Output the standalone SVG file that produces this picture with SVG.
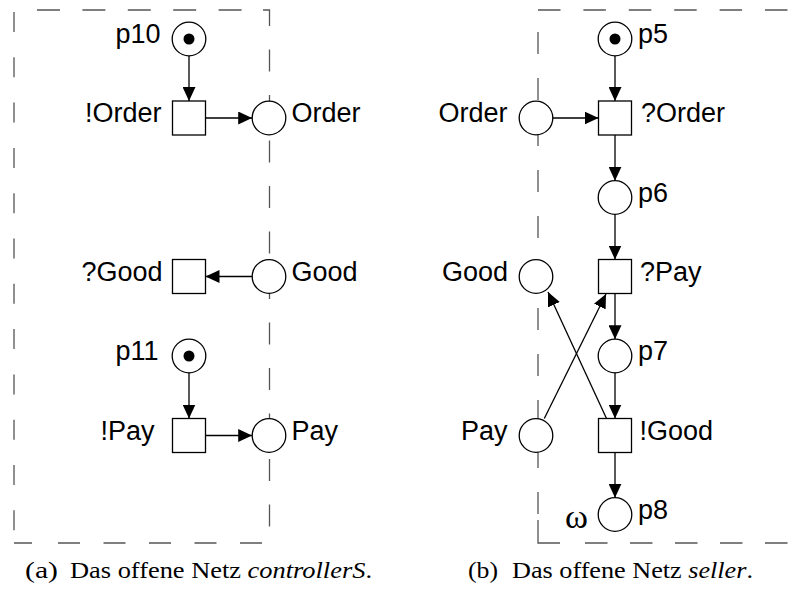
<svg xmlns="http://www.w3.org/2000/svg" width="797" height="590" viewBox="0 0 797 590">
  <style>
    .frame { fill: none; stroke: #555; stroke-width: 1.3; }
    .place { fill: #fff; stroke: #000; stroke-width: 1.3; }
    .trans { fill: #fff; stroke: #000; stroke-width: 1.3; }
    .token { fill: #000; }
    .arc { fill: none; stroke: #000; stroke-width: 1.3; marker-end: url(#ah); }
    .lbl { font-family: "Liberation Sans", Arial, sans-serif; font-size: 27px; fill: #000; }
    .cap { font-family: "Liberation Serif", "Times New Roman", serif; font-size: 24px; fill: #000; }
    .omega { font-family: "Liberation Serif", "Times New Roman", serif; font-size: 34px; fill: #000; }
  </style>
  <defs>
    <marker id="ah" markerWidth="14" markerHeight="13" refX="14" refY="6.5" orient="auto" markerUnits="userSpaceOnUse">
      <path d="M0,0 L14,6.5 L0,13 z" fill="#000"/>
    </marker>
  </defs>

  <!-- dashed borders of the two open nets -->
  <g id="frames">
    <!-- controllerS -->
    <line class="frame" x1="37" y1="10" x2="263" y2="10" stroke-dasharray="23 22.4"/>
    <path class="frame" d="M263,10 H269.5 V26"/>
    <line class="frame" x1="269.5" y1="49.5" x2="269.5" y2="530" stroke-dasharray="22 23.5"/>
    <line class="frame" x1="14" y1="12" x2="14" y2="531" stroke-dasharray="20 25.3"/>
    <line class="frame" x1="14" y1="543" x2="262" y2="543" stroke-dasharray="18 26 22 23.5 22 23.5 22 23.5 22 23.5 22 23.5"/>
    <!-- seller -->
    <line class="frame" x1="538" y1="10" x2="797" y2="10" stroke-dasharray="22.5 22.9"/>
    <line class="frame" x1="538" y1="32" x2="538" y2="514" stroke-dasharray="22 24"/>
    <path class="frame" d="M538,520 V543 H560"/>
    <line class="frame" x1="585" y1="543" x2="797" y2="543" stroke-dasharray="22.5 22.5"/>
  </g>

  <!-- arcs -->
  <g id="connectors">
    <line class="arc" x1="189" y1="55.8" x2="189" y2="101"/>
    <line class="arc" x1="205.5" y1="118" x2="252.2" y2="118"/>
    <line class="arc" x1="252.2" y1="276.5" x2="205.5" y2="276.5"/>
    <line class="arc" x1="189" y1="372.8" x2="189" y2="418.5"/>
    <line class="arc" x1="205.5" y1="435.5" x2="252.2" y2="435.5"/>

    <line class="arc" x1="615" y1="55.8" x2="615" y2="101"/>
    <line class="arc" x1="552.8" y1="118" x2="598.5" y2="118"/>
    <line class="arc" x1="615" y1="135" x2="615" y2="180.7"/>
    <line class="arc" x1="615" y1="214.3" x2="615" y2="259.5"/>
    <line class="arc" x1="615" y1="293.5" x2="615" y2="339.2"/>
    <line class="arc" x1="615" y1="372.8" x2="615" y2="418.5"/>
    <line class="arc" x1="615" y1="452.5" x2="615" y2="497.7"/>
    <line class="arc" x1="544.3" y1="418.5" x2="606" y2="294"/>
    <line class="arc" x1="606.5" y1="418.5" x2="548" y2="292"/>
  </g>

  <!-- controllerS nodes -->
  <g id="p10">
    <circle class="place" cx="189" cy="39" r="16.8"/>
    <circle class="token" cx="189" cy="39" r="5.5"/>
    <text class="lbl" x="115.5" y="43">p10</text>
  </g>
  <g id="t-send-order">
    <rect class="trans" x="172.5" y="101" width="33" height="34"/>
    <text class="lbl" x="85" y="122">!Order</text>
  </g>
  <g id="order-a">
    <circle class="place" cx="269" cy="118" r="16.8"/>
    <text class="lbl" x="291.5" y="122">Order</text>
  </g>
  <g id="t-recv-good">
    <rect class="trans" x="172.5" y="259.5" width="33" height="34"/>
    <text class="lbl" x="81.5" y="280.5">?Good</text>
  </g>
  <g id="good-a">
    <circle class="place" cx="269" cy="276.5" r="16.8"/>
    <text class="lbl" x="291.5" y="280.5">Good</text>
  </g>
  <g id="p11">
    <circle class="place" cx="189" cy="356" r="16.8"/>
    <circle class="token" cx="189" cy="356" r="5.5"/>
    <text class="lbl" x="115.5" y="360">p11</text>
  </g>
  <g id="t-send-pay">
    <rect class="trans" x="172.5" y="418.5" width="33" height="34"/>
    <text class="lbl" x="100.5" y="439.5">!Pay</text>
  </g>
  <g id="pay-a">
    <circle class="place" cx="269" cy="435.5" r="16.8"/>
    <text class="lbl" x="291.5" y="439.5">Pay</text>
  </g>

  <!-- seller nodes -->
  <g id="p5">
    <circle class="place" cx="615" cy="39" r="16.8"/>
    <circle class="token" cx="615" cy="39" r="5.5"/>
    <text class="lbl" x="638" y="43">p5</text>
  </g>
  <g id="order-b">
    <circle class="place" cx="536" cy="118" r="16.8"/>
    <text class="lbl" x="438.5" y="122">Order</text>
  </g>
  <g id="t-recv-order">
    <rect class="trans" x="598.5" y="101" width="33" height="34"/>
    <text class="lbl" x="641" y="122">?Order</text>
  </g>
  <g id="p6">
    <circle class="place" cx="615" cy="197.5" r="16.8"/>
    <text class="lbl" x="638" y="201.5">p6</text>
  </g>
  <g id="good-b">
    <circle class="place" cx="536" cy="276.5" r="16.8"/>
    <text class="lbl" x="442" y="280.5">Good</text>
  </g>
  <g id="t-recv-pay">
    <rect class="trans" x="598.5" y="259.5" width="33" height="34"/>
    <text class="lbl" x="640" y="280.5">?Pay</text>
  </g>
  <g id="p7">
    <circle class="place" cx="615" cy="356" r="16.8"/>
    <text class="lbl" x="638" y="360">p7</text>
  </g>
  <g id="pay-b">
    <circle class="place" cx="536" cy="435.5" r="16.8"/>
    <text class="lbl" x="461" y="439.5">Pay</text>
  </g>
  <g id="t-send-good">
    <rect class="trans" x="598.5" y="418.5" width="33" height="34"/>
    <text class="lbl" x="639.5" y="439.5">!Good</text>
  </g>
  <g id="p8">
    <circle class="place" cx="615" cy="514.5" r="16.8"/>
    <text class="lbl" x="638" y="518.5">p8</text>
    <text class="omega" x="565" y="527.5" textLength="23" lengthAdjust="spacingAndGlyphs">ω</text>
  </g>

  <!-- captions -->
  <g id="captions">
    <text class="cap" x="25" y="578" textLength="33" lengthAdjust="spacingAndGlyphs">(a)</text>
    <text class="cap" x="70" y="578" textLength="302" lengthAdjust="spacingAndGlyphs">Das offene Netz <tspan font-style="italic">controllerS</tspan>.</text>
    <text class="cap" x="468" y="578" textLength="30" lengthAdjust="spacingAndGlyphs">(b)</text>
    <text class="cap" x="512" y="578" textLength="241" lengthAdjust="spacingAndGlyphs">Das offene Netz <tspan font-style="italic">seller</tspan>.</text>
  </g>
</svg>
